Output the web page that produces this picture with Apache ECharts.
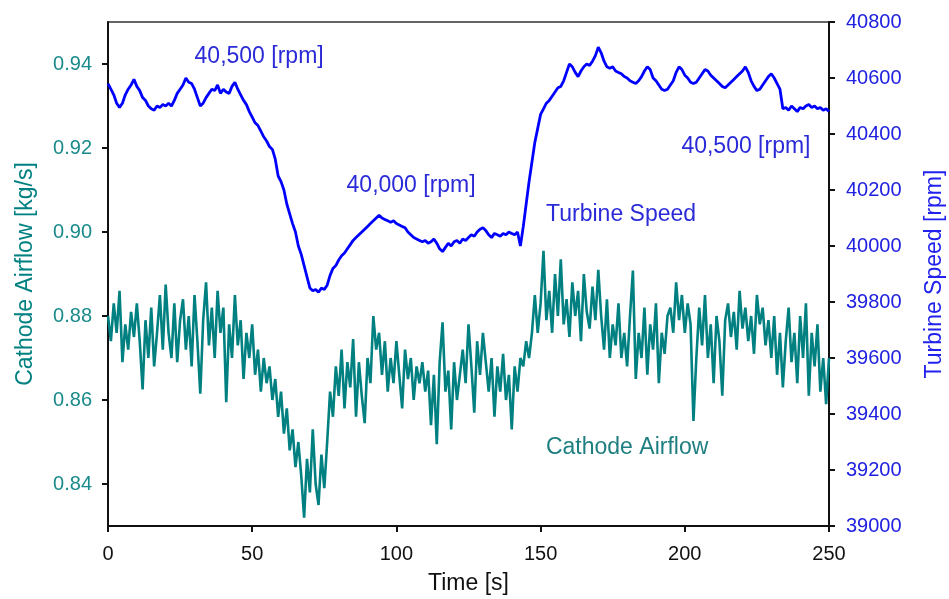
<!DOCTYPE html>
<html>
<head>
<meta charset="utf-8">
<script src="https://cdn.jsdelivr.net/npm/echarts@6/dist/echarts.min.js"></script>
<style>
  html, body { margin: 0; padding: 0; background: #fff; }
  #chart { width: 949px; height: 599px; }
</style>
</head>
<body>
<div id="chart"></div>
<script>
// sample time step [s]
var timeStep = 1;

// Cathode Airflow [kg/s], one value per second, 0..250 s
var airflow = [
  0.8800, 0.8740, 0.8830, 0.8760, 0.8860, 0.8690, 0.8780, 0.8720, 0.8810, 0.8750,
  0.8830, 0.8740, 0.8625, 0.8790, 0.8700, 0.8820, 0.8680, 0.8760, 0.8850, 0.8720,
  0.8875, 0.8760, 0.8700, 0.8830, 0.8690, 0.8790, 0.8840, 0.8720, 0.8800, 0.8680,
  0.8850, 0.8740, 0.8615, 0.8790, 0.8880, 0.8730, 0.8820, 0.8700, 0.8860, 0.8760,
  0.8820, 0.8595, 0.8780, 0.8700, 0.8850, 0.8730, 0.8790, 0.8650, 0.8760, 0.8700,
  0.8780, 0.8660, 0.8720, 0.8620, 0.8700, 0.8640, 0.8680, 0.8600, 0.8650, 0.8560,
  0.8620, 0.8520, 0.8580, 0.8480, 0.8530, 0.8440, 0.8500, 0.8420, 0.8320, 0.8460,
  0.8380, 0.8530, 0.8400, 0.8350, 0.8470, 0.8390, 0.8500, 0.8620, 0.8560, 0.8680,
  0.8610, 0.8720, 0.8580, 0.8690, 0.8630, 0.8745, 0.8560, 0.8690, 0.8610, 0.8545,
  0.8700, 0.8640, 0.8800, 0.8720, 0.8760, 0.8660, 0.8740, 0.8620, 0.8700, 0.8640,
  0.8740, 0.8660, 0.8580, 0.8720, 0.8650, 0.8700, 0.8600, 0.8680, 0.8640, 0.8690,
  0.8620, 0.8670, 0.8540, 0.8660, 0.8495, 0.8690, 0.8785, 0.8620, 0.8670, 0.8530,
  0.8690, 0.8600, 0.8660, 0.8720, 0.8640, 0.8780, 0.8680, 0.8570, 0.8740, 0.8660,
  0.8760, 0.8690, 0.8620, 0.8700, 0.8560, 0.8680, 0.8620, 0.8710, 0.8600, 0.8660,
  0.8530, 0.8680, 0.8620, 0.8700, 0.8680, 0.8740, 0.8700, 0.8760, 0.8850, 0.8760,
  0.8830, 0.8955, 0.8790, 0.8860, 0.8760, 0.8900, 0.8800, 0.8935, 0.8780, 0.8840,
  0.8750, 0.8880, 0.8800, 0.8860, 0.8740, 0.8900, 0.8810, 0.8770, 0.8870, 0.8790,
  0.8910, 0.8800, 0.8720, 0.8840, 0.8700, 0.8780, 0.8730, 0.8830, 0.8700, 0.8760,
  0.8680, 0.8800, 0.8908, 0.8650, 0.8760, 0.8700, 0.8820, 0.8660, 0.8780, 0.8720,
  0.8830, 0.8640, 0.8760, 0.8710, 0.8800, 0.8820, 0.8760, 0.8880, 0.8790, 0.8850,
  0.8760, 0.8830, 0.8780, 0.8550, 0.8700, 0.8820, 0.8730, 0.8850, 0.8700, 0.8780,
  0.8640, 0.8800, 0.8740, 0.8610, 0.8790, 0.8830, 0.8750, 0.8810, 0.8720, 0.8860,
  0.8770, 0.8820, 0.8740, 0.8800, 0.8710, 0.8850, 0.8780, 0.8820, 0.8730, 0.8790,
  0.8700, 0.8800, 0.8660, 0.8760, 0.8630, 0.8740, 0.8820, 0.8690, 0.8760, 0.8640,
  0.8800, 0.8700, 0.8830, 0.8610, 0.8760, 0.8680, 0.8780, 0.8620, 0.8700, 0.8590,
  0.8700
];

// Turbine Speed [rpm], one value per second, 0..250 s
var speed = [
  40580, 40560, 40540, 40510, 40495, 40510, 40540, 40560, 40575, 40595,
  40570, 40555, 40530, 40520, 40500, 40490, 40485, 40500, 40495, 40505,
  40500, 40510, 40500, 40520, 40545, 40560, 40575, 40600, 40585, 40580,
  40560, 40530, 40500, 40510, 40530, 40545, 40560, 40555, 40575, 40545,
  40560, 40550, 40545, 40570, 40585, 40560, 40540, 40520, 40505, 40480,
  40460, 40440, 40430, 40410, 40390, 40375, 40355, 40345, 40310, 40250,
  40230, 40200, 40150, 40115, 40080, 40050, 40000, 39970, 39930, 39890,
  39850, 39840, 39845, 39835, 39850, 39845, 39860, 39895, 39920, 39930,
  39950, 39965, 39975, 39990, 40005, 40020, 40030, 40040, 40050, 40060,
  40070, 40080, 40090, 40100, 40110, 40100, 40095, 40090, 40085, 40090,
  40080, 40075, 40070, 40065, 40050, 40040, 40030, 40025, 40020, 40015,
  40020, 40010, 40015, 40025, 40010, 39990, 39980, 39995, 40010, 40000,
  40015, 40020, 40010, 40025, 40020, 40030, 40040, 40035, 40050, 40060,
  40065, 40055, 40040, 40030, 40045, 40040, 40035, 40045, 40040, 40050,
  40045, 40040, 40050, 40000, 40070, 40150, 40230, 40300, 40370, 40420,
  40470, 40490, 40510, 40520, 40535, 40550, 40565, 40570, 40590, 40620,
  40650, 40640, 40620, 40605, 40625, 40640, 40650, 40645, 40660, 40680,
  40710, 40690, 40660, 40640, 40635, 40640, 40625, 40620, 40615, 40605,
  40600, 40590, 40585, 40580, 40590, 40605, 40625, 40640, 40630, 40600,
  40590, 40575, 40560, 40555, 40560, 40575, 40590, 40620, 40640, 40630,
  40610, 40600, 40585, 40580, 40585, 40600, 40615, 40630, 40625, 40610,
  40600, 40590, 40580, 40570, 40565, 40575, 40585, 40595, 40605, 40615,
  40625, 40640, 40620, 40590, 40570, 40555, 40560, 40575, 40590, 40605,
  40615, 40600, 40580, 40560, 40490, 40495, 40485, 40500, 40490, 40480,
  40495, 40490, 40500, 40505, 40495, 40500, 40490, 40495, 40485, 40490,
  40480
];

// tick labels
var airflowTicks = [0.84, 0.86, 0.88, 0.90, 0.92, 0.94];

// text notes: [time, value, text]
var speedNotes = [
  [52.4, 40675, '40,500 [rpm]'],
  [105.1, 40214, '40,000 [rpm]'],
  [177.9, 40111, 'Turbine Speed'],
  [221.2, 40354, '40,500 [rpm]']
];
var airflowNotes = [
  [180, 0.8486, 'Cathode Airflow']
];

var teal = '#008080';
var blue = '#0000ff';
var font = 'Liberation Sans, Arial, sans-serif';

function pairs(arr) {
  return arr.map(function (v, i) { return [i * timeStep, v]; });
}

function notes(list, color) {
  return {
    symbol: 'circle',
    symbolSize: 0,
    silent: true,
    label: {
      show: true,
      position: 'inside',
      color: color,
      fontSize: 23,
      fontFamily: font,
      formatter: function (p) { return p.data.text; }
    },
    data: list.map(function (n) { return { coord: [n[0], n[1]], text: n[2] }; })
  };
}

var chart = echarts.init(document.getElementById('chart'));
var option = {
  animation: false,
  backgroundColor: '#fff',
  textStyle: { fontFamily: font },
  grid: {
    left: 108, right: 120, top: 22, bottom: 73,
    show: true, borderColor: '#333', borderWidth: 1.5,
    containLabel: false, outerBoundsMode: 'none'
  },
  xAxis: {
    type: 'value',
    min: 0, max: 250, interval: 50,
    name: 'Time [s]',
    nameLocation: 'middle',
    nameGap: 46,
    nameTextStyle: { color: '#111', fontSize: 23, fontFamily: font },
    axisLine: { show: true, lineStyle: { color: '#111', width: 2 } },
    axisTick: { show: true, inside: false, length: 6, lineStyle: { color: '#111', width: 2 } },
    axisLabel: { color: '#111', fontSize: 20, margin: 18, fontFamily: font },
    splitLine: { show: false }
  },
  yAxis: [
    {
      type: 'value',
      position: 'left',
      min: 0.83, max: 0.95,
      name: 'Cathode Airflow [kg/s]',
      nameLocation: 'middle',
      nameRotate: 90,
      nameGap: 71,
      nameTextStyle: { color: teal, fontSize: 23, fontFamily: font },
      axisLine: { show: true, lineStyle: { color: '#111', width: 2 } },
      axisTick: { show: true, inside: false, length: 6, customValues: airflowTicks, lineStyle: { color: '#111', width: 2 } },
      axisLabel: {
        color: '#1a8a8a', fontSize: 20, margin: 16, fontFamily: font,
        customValues: airflowTicks,
        formatter: function (v) { return v.toFixed(2); }
      },
      splitLine: { show: false }
    },
    {
      type: 'value',
      position: 'right',
      min: 39000, max: 40800, interval: 200,
      name: 'Turbine Speed [rpm]',
      nameLocation: 'middle',
      nameRotate: 90,
      nameGap: 94,
      nameTextStyle: { color: '#2222ee', fontSize: 23, fontFamily: font },
      axisLine: { show: true, lineStyle: { color: '#111', width: 2 } },
      axisTick: { show: true, inside: false, length: 6, lineStyle: { color: '#111', width: 2 } },
      axisLabel: {
        color: '#2020e0', fontSize: 20, margin: 17, fontFamily: font,
        formatter: function (v) { return String(v); }
      },
      splitLine: { show: false }
    }
  ],
  series: [
    {
      name: 'Cathode Airflow',
      type: 'line',
      yAxisIndex: 0,
      showSymbol: false,
      lineStyle: { color: teal, width: 2.6 },
      data: pairs(airflow),
      markPoint: notes(airflowNotes, '#1f7f80')
    },
    {
      name: 'Turbine Speed',
      type: 'line',
      yAxisIndex: 1,
      showSymbol: false,
      lineStyle: { color: blue, width: 2.8 },
      data: pairs(speed),
      markPoint: notes(speedNotes, '#2a2ad8')
    }
  ]
};
chart.setOption(option);
</script>
</body>
</html>
